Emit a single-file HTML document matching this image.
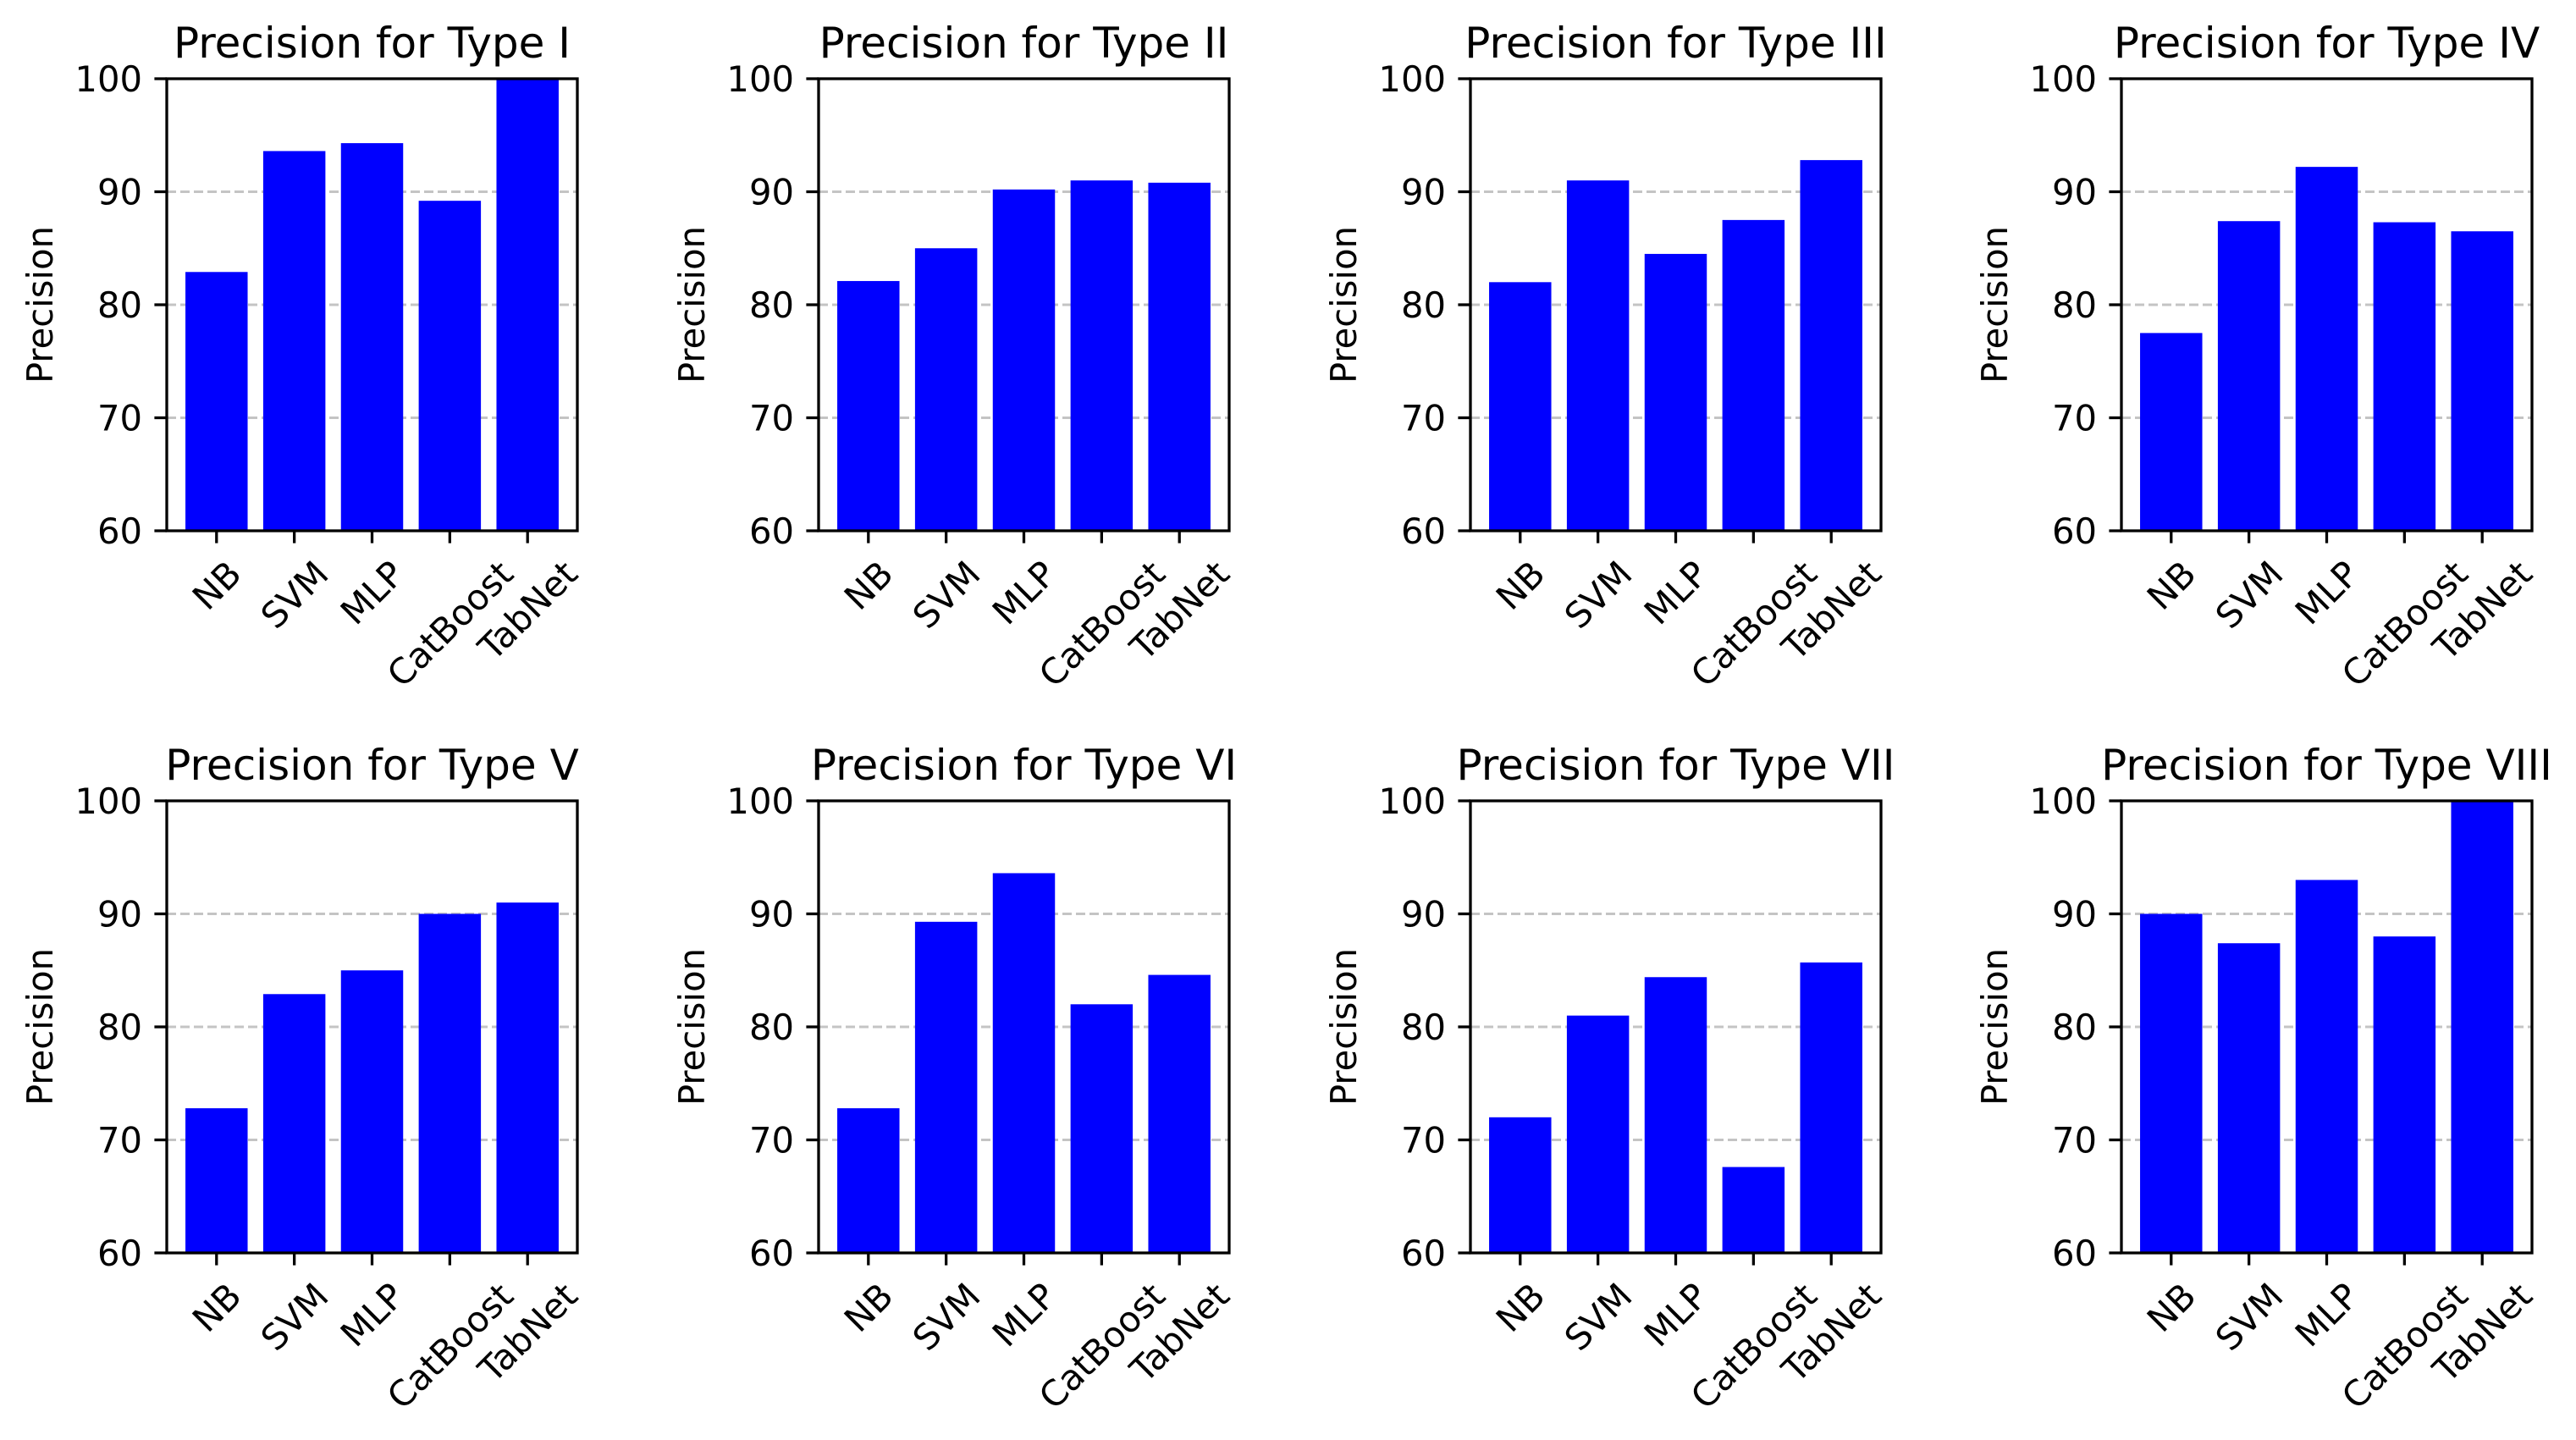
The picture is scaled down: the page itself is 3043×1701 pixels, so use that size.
<!DOCTYPE html>
<html><head><meta charset="utf-8">
<style>
html,body{margin:0;padding:0;background:#fff;}
svg{display:block;font-family:"DejaVu Sans","Liberation Sans",sans-serif;}
</style></head>
<body>
<svg id="fig" width="3043" height="1701" viewBox="0 0 3043 1701" xmlns="http://www.w3.org/2000/svg"></svg>
<script>
const categories = ["NB","SVM","MLP","CatBoost","TabNet"];
const panelTitles = ["Type I","Type II","Type III","Type IV","Type V","Type VI","Type VII","Type VIII"];
const valuesTypeI    = [82.9, 93.6, 94.3, 89.2, 100];
const valuesTypeII   = [82.1, 85.0, 90.2, 91.0, 90.8];
const valuesTypeIII  = [82.0, 91.0, 84.5, 87.5, 92.8];
const valuesTypeIV   = [77.5, 87.4, 92.2, 87.3, 86.5];
const valuesTypeV    = [72.8, 82.9, 85.0, 90.0, 91.0];
const valuesTypeVI   = [72.8, 89.3, 93.6, 82.0, 84.6];
const valuesTypeVII  = [72.0, 81.0, 84.4, 67.6, 85.7];
const valuesTypeVIII = [90.0, 87.4, 93.0, 88.0, 100];
const yTicks = [60,70,80,90,100];
const gridTicks = [70,80,90];
const yMin = 60, yMax = 100;

const allValues = [valuesTypeI,valuesTypeII,valuesTypeIII,valuesTypeIV,valuesTypeV,valuesTypeVI,valuesTypeVII,valuesTypeVIII];
const NS = "http://www.w3.org/2000/svg";
const fig = document.getElementById("fig");
const colLefts = [197, 967, 1737, 2506];
const rowTops = [93, 946];
const AW = 485, AH = 534;
const FS = 41.7, TFS = 50;

function mk(tag, attrs, parent){
  const e = document.createElementNS(NS, tag);
  for (const k in attrs) e.setAttribute(k, attrs[k]);
  parent.appendChild(e);
  return e;
}

allValues.forEach((vals, p) => {
  const L = colLefts[p % 4], T = rowTops[Math.floor(p / 4)];
  const xMin = -0.64, xMax = 4.64;
  const xs = v => L + (v - xMin) / (xMax - xMin) * AW;
  const ys = v => T + AH - (v - yMin) / (yMax - yMin) * AH;
  const g = mk("g", {}, fig);
  
  

  gridTicks.forEach(t => {
    const ln = mk("line", {x1: L, x2: L + AW, y1: ys(t), y2: ys(t), stroke: "#c4c4c4", "stroke-width": 3, "stroke-dasharray": "11,5"}, g);
    
    
  });

  vals.forEach((v, i) => {
    const x0 = xs(i - 0.4), x1 = xs(i + 0.4);
    const r = mk("rect", {x: x0, y: ys(v), width: x1 - x0, height: ys(yMin) - ys(v), fill: "#0000ff"}, g);
    
    
  });

  const fr = mk("rect", {x: L, y: T, width: AW, height: AH, fill: "none", stroke: "#000", "stroke-width": 3.3}, g);
  
  

  yTicks.forEach(t => {
    mk("line", {x1: L - 14.6, x2: L, y1: ys(t), y2: ys(t), stroke: "#000", "stroke-width": 3.3}, g);
    const tx = mk("text", {x: L - 29, y: ys(t) + FS * 0.36, "text-anchor": "end", "font-size": FS, fill: "#000"}, g);
    tx.textContent = t;
    
    
  });

  categories.forEach((c, i) => {
    const x = xs(i), yb = T + AH;
    mk("line", {x1: x, x2: x, y1: yb, y2: yb + 14.6, stroke: "#000", "stroke-width": 3.3}, g);
    const tx = mk("text", {"text-anchor": "middle", "font-size": FS, fill: "#000"}, g);
    tx.textContent = c;
    
    
    const w = tx.getComputedTextLength();
    const h = FS * 0.95;
    const bh = (w + h) / Math.SQRT2;
    const cy = yb + 29 + bh / 2;
    tx.setAttribute("x", x);
    tx.setAttribute("y", cy + FS * 0.36);
    tx.setAttribute("transform", "rotate(-45 " + x + " " + cy + ")");
  });

  const yl = mk("text", {x: 0, y: 0, "text-anchor": "middle", "font-size": FS, fill: "#000", transform: "translate(" + (L - 135) + "," + (T + AH / 2) + ") rotate(-90)"}, g);
  yl.textContent = "Precision";
  
  

  const tt = mk("text", {x: L + AW / 2, y: T - 25, "text-anchor": "middle", "font-size": TFS, fill: "#000"}, g);
  tt.textContent = "Precision for " + panelTitles[p];
  
  
});
</script>
</body></html>
